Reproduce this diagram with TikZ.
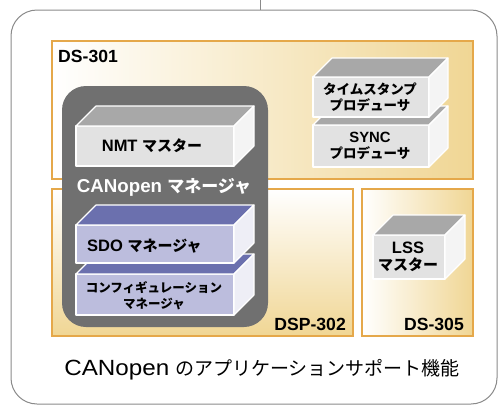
\documentclass[tikz,border=0pt]{standalone}
\usepackage{fontspec}
\setmainfont{Liberation Sans}[Scale=1.1]
\newfontfamily\jp{Noto Sans CJK JP}
\newcommand\J[1]{{\jp #1}}
\definecolor{frame}{RGB}{138,138,138}
\definecolor{orng}{RGB}{229,168,74}
\definecolor{tan}{RGB}{240,214,148}
\definecolor{cream}{RGB}{251,244,226}
\definecolor{mgr}{RGB}{112,112,112}
\definecolor{gtop}{RGB}{168,168,168}
\definecolor{gfront}{RGB}{226,226,226}
\definecolor{gside}{RGB}{244,244,244}
\definecolor{ptop}{RGB}{107,112,174}
\definecolor{pfront}{RGB}{188,189,221}
\definecolor{pside}{RGB}{238,238,246}
\tikzset{
  gtopf/.style={fill=gtop,draw=white,line width=1.1pt,line join=round},
  gfrontf/.style={fill=gfront,draw=white,line width=1.1pt,line join=round},
  gsidef/.style={fill=gside,draw=white,line width=1.1pt,line join=round},
  ptopf/.style={fill=ptop,draw=white,line width=1.1pt,line join=round},
  pfrontf/.style={fill=pfront,draw=white,line width=1.1pt,line join=round},
  psidef/.style={fill=pside,draw=white,line width=1.1pt,line join=round},
  region/.style={draw=orng,line width=1.1pt},
  lab/.style={inner sep=0pt,font=\bfseries\fontsize{15}{17}\selectfont,align=center},
  smalllab/.style={inner sep=0pt,font=\bfseries\fontsize{13.5}{16}\selectfont,align=center},
  tinylab/.style={inner sep=0pt,font=\bfseries\fontsize{12.5}{16}\selectfont,align=center},
  tag/.style={inner sep=0pt,font=\bfseries\fontsize{16}{18}\selectfont},
}
% name, x1, y1, x2, y2, depth, colour prefix
\newcommand\mycube[7]{%
  \coordinate (#1-nw) at (#2,#3);
  \coordinate (#1-se) at (#4,#5);
  \path[#7frontf] (#2,#3) rectangle (#4,#5);
  \path[#7topf] (#2,#3) -- ({#2+#6},{#3-#6}) -- ({#4+#6},{#3-#6}) -- (#4,#3) -- cycle;
  \path[#7sidef] (#4,#3) -- ({#4+#6},{#3-#6}) -- ({#4+#6},{#5-#6}) -- (#4,#5) -- cycle;
}
\begin{document}
\begin{tikzpicture}[x=1pt,y=-1pt]
\useasboundingbox (0,0) rectangle (499,407);
% outer frame
\draw[frame,line width=1pt,rounded corners=26pt] (11,10) rectangle (497,404);
\coordinate (top) at (260,0);
\coordinate (topin) at (260,10);
\draw[frame,line width=1pt] (top) -- (topin);
% regions
\shade[left color=white,middle color=cream,right color=tan] (52,41) rectangle (473,179);
\draw[region] (52,41) rectangle (473,179);
\shade[top color=white,bottom color=tan] (52,189) rectangle (353,336);
\draw[region] (52,189) rectangle (353,336);
\shade[left color=white,right color=tan] (362,189) rectangle (473,336);
\draw[region] (362,189) rectangle (473,336);
\node[tag,anchor=west] (ds301) at (58,56) {DS-301};
\node[tag,anchor=east] (dsp302) at (346,324) {DSP-302};
\node[tag,anchor=east] (ds305) at (464,324) {DS-305};
% CANopen manager
\fill[mgr,rounded corners=24pt] (62,86) rectangle (268,327);
\node[tag,white,font=\bfseries\fontsize{17}{19}\selectfont] (mgrlab) at (164,187) {CANopen \J{マネージャ}};
% cubes
\mycube{nmt}{76}{126}{234}{166}{20}{g}
\node[lab] (nmtl) at (152,146) {NMT \J{マスター}};
\mycube{cfg}{76}{274}{234}{315}{20}{p}
\node[tinylab] (cfgl) at (154,296) {\J{コンフィギュレーション}\\\J{マネージャ}};
\mycube{sdo}{76}{225}{234}{263}{20}{p}
\node[lab,anchor=west] (sdol) at (87,246) {SDO \J{マネージャ}};
\mycube{sync}{313}{125}{429}{167}{19}{g}
\node[smalllab] (syncl) at (370,146) {SYNC\\\J{プロデューサ}};
\mycube{ts}{313}{77}{429}{117}{19}{g}
\node[smalllab] (tsl) at (370,97) {\J{タイムスタンプ}\\\J{プロデューサ}};
\mycube{lss}{373}{235}{445}{279}{20}{g}
\node[lab] (lssl) at (408,257) {LSS\\\J{マスター}};
% caption
\node[inner sep=0pt,font=\fontsize{19}{21}\selectfont] (cap) at (262,370) {\scalebox{1.1}[1]{\fontsize{20}{21}\selectfont CANopen} \J{のアプリケーションサポート機能}};
\end{tikzpicture}
\end{document}
